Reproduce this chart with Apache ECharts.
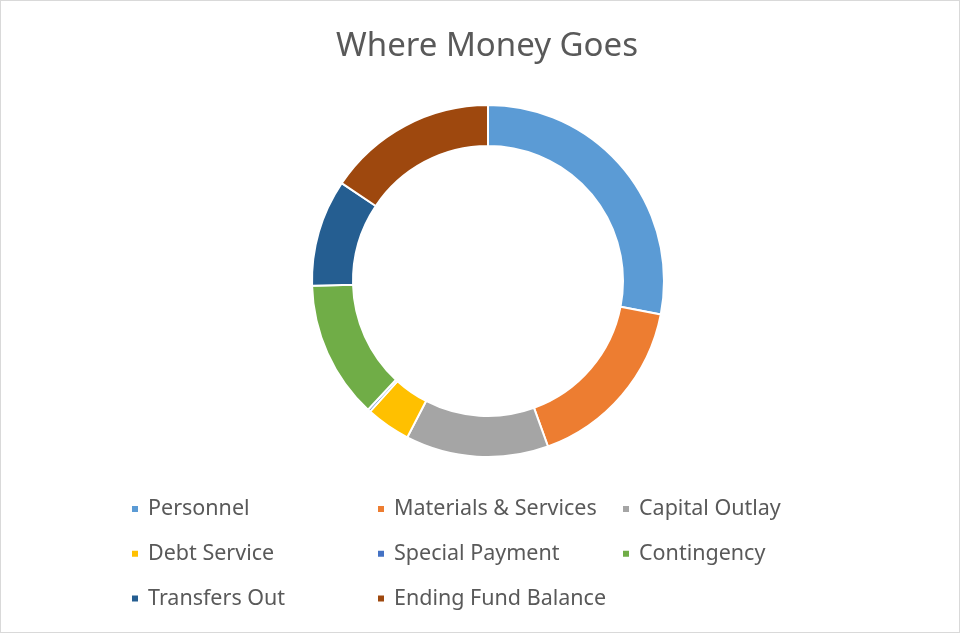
<!DOCTYPE html>
<html>
<head>
    <meta charset="utf-8">
    <title>Where Money Goes</title>
    <script src="https://cdn.jsdelivr.net/npm/echarts@6/dist/echarts.min.js"></script>
    <style>
        html, body { margin: 0; padding: 0; background: #fff; }
        #main { width: 958px; height: 631px; border: 1px solid #d9d9d9; }
    </style>
</head>
<body>
    <div id="main"></div>
    <script type="text/javascript">
        var myChart = echarts.init(document.getElementById('main'));

        // budget categories and their share (percent, read from the ring)
        var categories = ['Personnel', 'Materials & Services', 'Capital Outlay', 'Debt Service',
                          'Special Payment', 'Contingency', 'Transfers Out', 'Ending Fund Balance'];
        var values = [28.0, 16.4, 13.1, 4.1, 0.25, 12.6, 9.8, 15.6];
        var colors = ['#5B9BD5', '#ED7D31', '#A5A5A5', '#FFC000', '#4472C4', '#70AD47', '#255E91', '#9E480E'];

        // legend columns as laid out in the original
        var legendCols = [
            ['Personnel', 'Debt Service', 'Transfers Out'],
            ['Materials & Services', 'Special Payment', 'Ending Fund Balance'],
            ['Capital Outlay', 'Contingency']
        ];
        var legendLeft = [124, 370, 615];

        var font = 'Noto Sans';

        var option = {
            color: colors,
            title: {
                text: 'Where Money Goes',
                left: 481,
                top: 24,
                textAlign: 'center',
                textStyle: {
                    color: '#595959',
                    fontFamily: font,
                    fontWeight: 'normal',
                    fontSize: 33
                }
            },
            legend: legendCols.map(function (col, i) {
                return {
                    data: col,
                    orient: 'vertical',
                    left: legendLeft[i],
                    top: 492,
                    icon: 'rect',
                    itemWidth: 8,
                    itemHeight: 8,
                    itemGap: 22.7,
                    textStyle: {
                        color: '#595959',
                        fontFamily: font,
                        fontSize: 21.5,
                        padding: [0, 0, 0, 4]
                    }
                };
            }),
            series: [{
                type: 'pie',
                center: [487, 280],
                radius: [135, 176],
                startAngle: 90,
                clockwise: true,
                avoidLabelOverlap: false,
                label: { show: false },
                labelLine: { show: false },
                emphasis: { disabled: true },
                itemStyle: {
                    borderColor: '#fff',
                    borderWidth: 2
                },
                data: categories.map(function (name, i) {
                    return { name: name, value: values[i] };
                })
            }]
        };

        myChart.setOption(option);
    </script>
</body>
</html>
